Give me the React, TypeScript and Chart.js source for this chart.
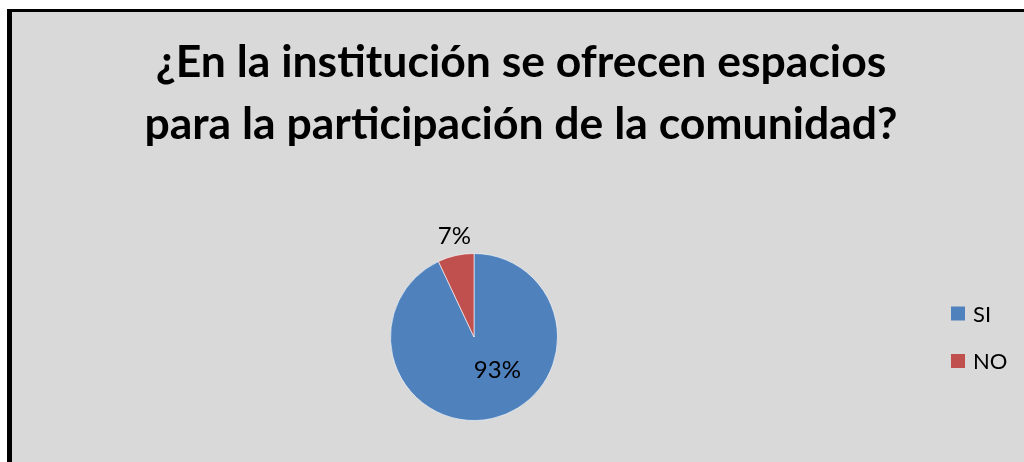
import React, { useEffect, useRef } from "react";
import { Chart, registerables } from "chart.js";

Chart.register(...registerables);

const categories = ["SI", "NO"];
const values = [93, 7];
const percentLabels = ["93%", "7%"];
const titleLines = ["¿En la institución se ofrecen espacios", "para la participación de la comunidad?"];
const colors = ["#4f81bd", "#c0504d"];

const W = 1012;
const H = 450;

const overlayPlugin = {
  id: "overlay",
  afterDraw(chart: any) {
    const ctx = chart.ctx as CanvasRenderingContext2D;
    ctx.save();
    // title
    ctx.fillStyle = "#000";
    ctx.textAlign = "center";
    ctx.textBaseline = "alphabetic";
    ctx.font = "bold 44.5px Lato";
    ctx.fillText(titleLines[0], 509, 65);
    ctx.fillText(titleLines[1], 509, 127);
    // data labels
    const meta = chart.getDatasetMeta(0);
    ctx.font = "24px Lato";
    ctx.textBaseline = "middle";
    meta.data.forEach((arc: any, i: number) => {
      const { x, y, startAngle, endAngle, outerRadius } = arc.getProps(["x", "y", "startAngle", "endAngle", "outerRadius"], true);
      const mid = (startAngle + endAngle) / 2;
      let lx: number, ly: number;
      if (i === 0) {
        lx = x + outerRadius * 0.28;
        ly = y + outerRadius * 0.4;
      } else {
        lx = x + Math.cos(mid) * (outerRadius + 20) + 3;
        ly = y + Math.sin(mid) * (outerRadius + 20);
      }
      ctx.fillText(percentLabels[i], lx, ly);
    });
    // legend
    ctx.textAlign = "left";
    ctx.font = "22px Lato";
    categories.forEach((c, i) => {
      const y = 301.5 + i * 47.5;
      ctx.fillStyle = colors[i];
      ctx.fillRect(939, y - 7, 14, 14);
      ctx.fillStyle = "#000";
      ctx.fillText(c, 961, y + 1);
    });
    ctx.restore();
  },
};

export default function App() {
  const ref = useRef<HTMLCanvasElement>(null);
  useEffect(() => {
    if (!ref.current) return;
    const chart = new Chart(ref.current, {
      type: "pie",
      data: {
        labels: categories,
        datasets: [
          {
            data: values,
            backgroundColor: colors,
            borderColor: "rgba(255,255,255,0.6)",
            borderWidth: 1,
          },
        ],
      },
      options: {
        animation: false,
        responsive: false,
        maintainAspectRatio: false,
        layout: { padding: { left: 378, right: 466, top: 241, bottom: 41 } },
        plugins: {
          legend: { display: false },
          title: { display: false },
          tooltip: { enabled: false },
        },
      },
      plugins: [overlayPlugin],
    });
    return () => chart.destroy();
  }, []);
  return (
    <div
      style={{
        position: "fixed",
        left: 7,
        top: 9,
        width: 1012,
        height: 450,
        borderTop: "3px solid #000",
        borderLeft: "5px solid #000",
        background: "#d9d9d9",
      }}
    >
      <canvas ref={ref} width={W} height={H} style={{ display: "block", width: W, height: H }} />
    </div>
  );
}
